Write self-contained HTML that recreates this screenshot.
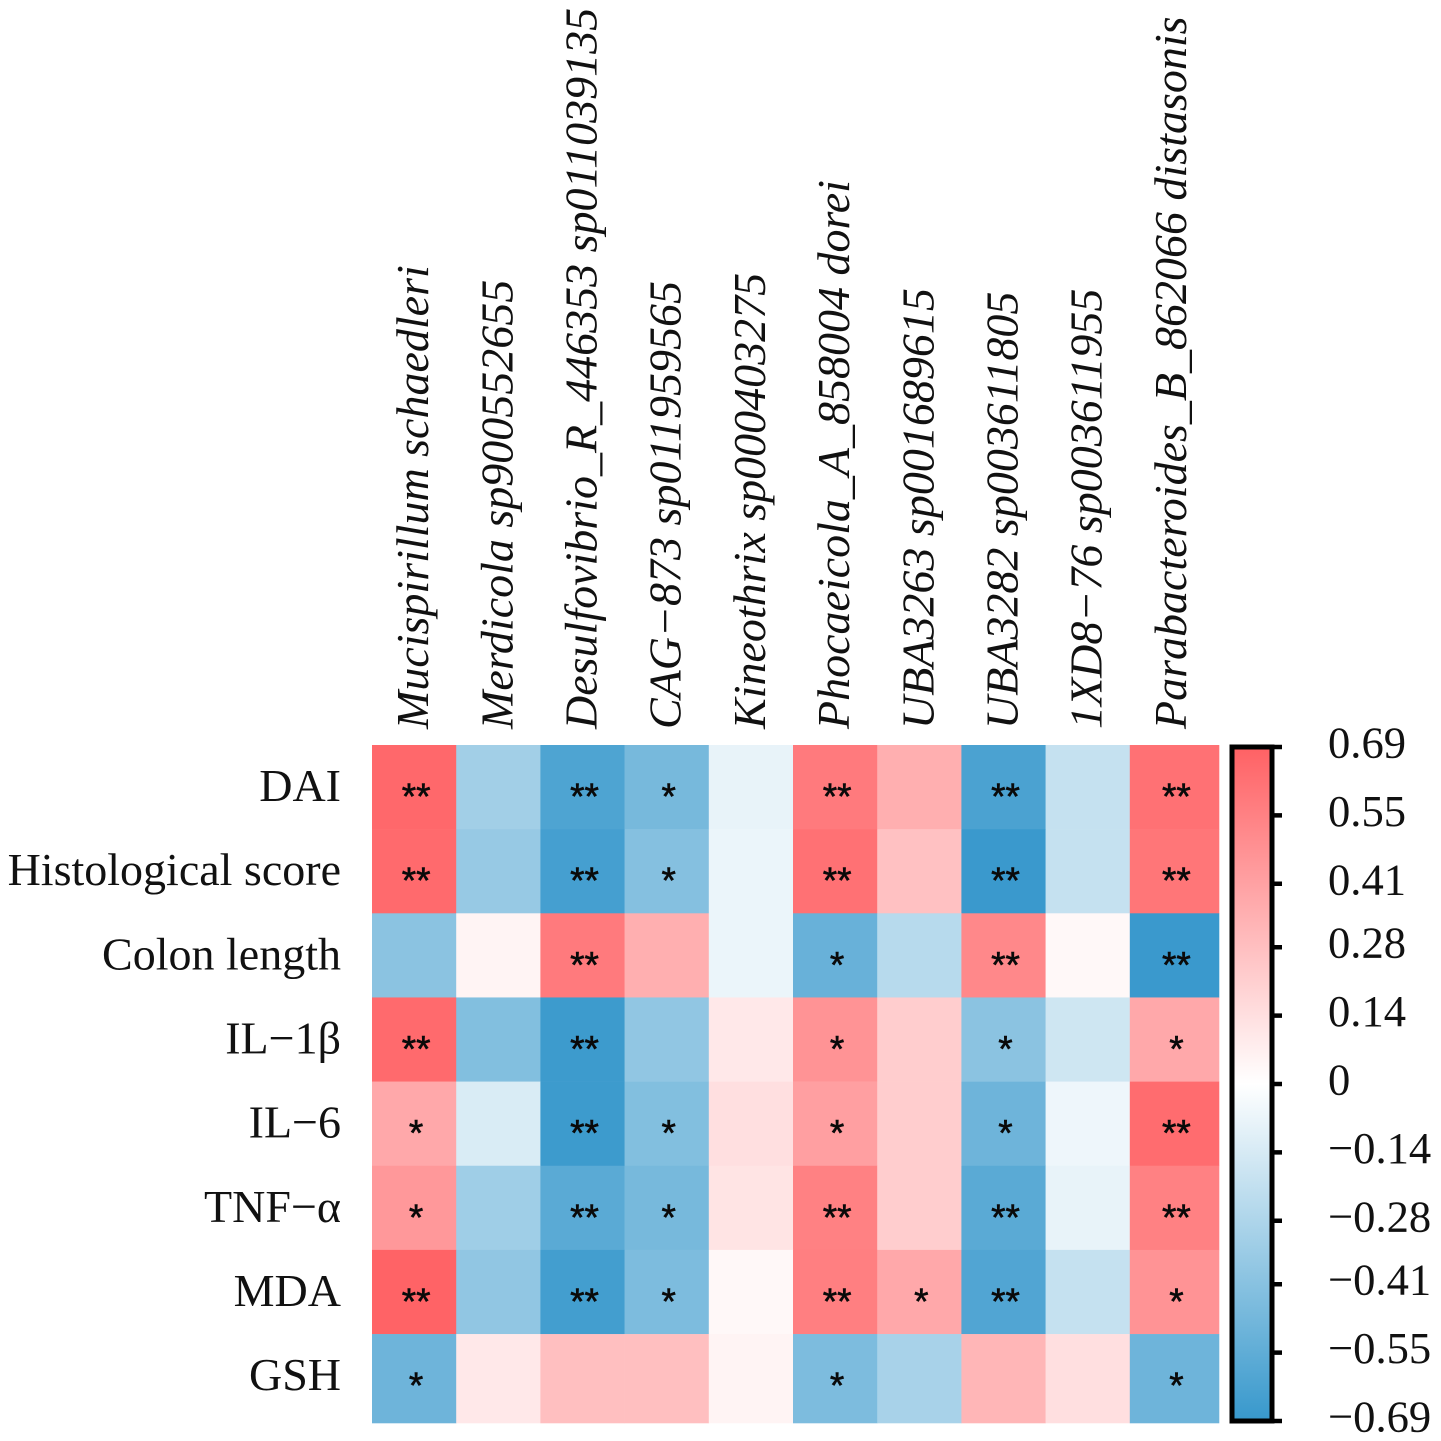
<!DOCTYPE html>
<html>
<head>
<meta charset="utf-8">
<title>Correlation heatmap</title>
<style>
html,body{margin:0;padding:0;background:#fff;width:1441px;height:1441px;overflow:hidden}
svg{display:block}
text{font-family:"Liberation Serif","Noto Serif CJK SC",serif;fill:#111}
</style>
</head>
<body>
<svg id="chart" xmlns="http://www.w3.org/2000/svg" width="1441" height="1441" viewBox="0 0 1441 1441">
<defs>
<linearGradient id="cbar-gradient" x1="0" y1="0" x2="0" y2="1">
<stop offset="0" stop-color="#ff6164"/>
<stop offset="0.5" stop-color="#ffffff"/>
<stop offset="1" stop-color="#3798cc"/>
</linearGradient>
</defs>
</svg>
<script>
const species = ["Mucispirillum schaedleri","Merdicola sp900552655","Desulfovibrio_R_446353 sp011039135","CAG\u2212873 sp011959565","Kineothrix sp000403275","Phocaeicola_A_858004 dorei","UBA3263 sp001689615","UBA3282 sp003611805","1XD8\u221276 sp003611955","Parabacteroides_B_862066 distasonis"];
const indicators = ["DAI","Histological score","Colon length","IL\u22121\u03b2","IL\u22126","TNF\u2212\u03b1","MDA","GSH"];
const correlations = [
[0.66,-0.32,-0.61,-0.47,-0.08,0.58,0.35,-0.62,-0.20,0.62],
[0.65,-0.36,-0.64,-0.42,-0.07,0.62,0.27,-0.68,-0.20,0.60],
[-0.40,0.05,0.58,0.35,-0.07,-0.52,-0.25,0.52,0.03,-0.68],
[0.65,-0.43,-0.67,-0.38,0.10,0.47,0.22,-0.40,-0.17,0.38],
[0.38,-0.13,-0.67,-0.43,0.14,0.42,0.22,-0.50,-0.06,0.64],
[0.45,-0.33,-0.57,-0.47,0.12,0.55,0.22,-0.57,-0.08,0.55],
[0.68,-0.38,-0.65,-0.45,0.03,0.56,0.38,-0.60,-0.20,0.47],
[-0.50,0.10,0.28,0.28,0.05,-0.45,-0.30,0.32,0.14,-0.50]
];
const significance = [
["**","","**","*","","**","","**","","**"],
["**","","**","*","","**","","**","","**"],
["","","**","","","*","","**","","**"],
["**","","**","","","*","","*","","*"],
["*","","**","*","","*","","*","","**"],
["*","","**","*","","**","","**","","**"],
["**","","**","*","","**","*","**","","*"],
["*","","","","","*","","","","*"]
];
const colorbarTicks = [0.69,0.55,0.41,0.28,0.14,0,-0.14,-0.28,-0.41,-0.55,-0.69];
const colorbarLabels = ["0.69","0.55","0.41","0.28","0.14","0","\u22120.14","\u22120.28","\u22120.41","\u22120.55","\u22120.69"];
const domainMax = 0.69;

const NS = "http://www.w3.org/2000/svg";
const svg = document.getElementById("chart");
const plot = {left:372, right:1219, top:745, bottom:1423};
const cbar = {left:1232, right:1272, top:747, bottom:1421};
const colW = 84.2;
const rowH = 84.15;
const xAt = i => plot.left + i*colW;
const yAt = i => plot.top + i*rowH;
const cellW = i => i === species.length-1 ? plot.right - xAt(i) : colW;
const cellH = i => i === indicators.length-1 ? plot.bottom - yAt(i) : rowH;
const cbarY = v => cbar.top + (domainMax - v)/(2*domainMax)*(cbar.bottom-cbar.top);
function mix(a,b,t){return a.map((c,i)=>Math.round(c+(b[i]-c)*t));}
function colorOf(v){
  const t = Math.min(1,Math.abs(v)/domainMax);
  const c = mix([255,255,255], v>=0 ? [255,97,100] : [55,152,204], t);
  return "rgb("+c.join(",")+")";
}
function make(tag,attrs,parent){
  const el = document.createElementNS(NS,tag);
  for(const k in attrs) el.setAttribute(k,attrs[k]);
  (parent||svg).appendChild(el);
  return el;
}

correlations.forEach((row,r)=>{
  row.forEach((v,c)=>{
    const cell = make("rect",{x:xAt(c),y:yAt(r),width:cellW(c)+0.3,height:cellH(r)+0.3,fill:colorOf(v)});
    
    
  });
});
correlations.forEach((row,r)=>{
  row.forEach((v,c)=>{
    const s = significance[r][c];
    if(s){
      const t = make("text",{x:xAt(c)+cellW(c)/2+2,y:yAt(r)+rowH/2+22,"text-anchor":"middle","font-size":37,stroke:"#0a0a0a","stroke-width":0.6});
      t.style.fontFamily = '"Liberation Sans",sans-serif';
      t.style.fill = "#0a0a0a";
      t.textContent = s;
      
      
    }
  });
});

species.forEach((name,i)=>{
  const bx = xAt(i)+colW/2+14;
  const t = make("text",{x:0,y:0,transform:"translate("+bx+",729) rotate(-90)","font-size":46,"font-style":"italic"});
  t.textContent = name;
  
  
});

indicators.forEach((name,i)=>{
  const t = make("text",{x:341,y:yAt(i)+rowH/2+14,"text-anchor":"end","font-size":46});
  t.textContent = name;
  
  
});

const barFill = make("rect",{x:cbar.left,y:cbar.top,width:cbar.right-cbar.left,height:cbar.bottom-cbar.top,fill:"url(#cbar-gradient)",stroke:"#000","stroke-width":5});



colorbarTicks.forEach((v,i)=>{
  const y = cbarY(v);
  const tick = make("line",{x1:cbar.right,x2:cbar.right+10,y1:y,y2:y,stroke:"#000","stroke-width":4.5});
  
  
  const label = make("text",{x:1328,y:y+10.5,"font-size":44.6});
  label.textContent = colorbarLabels[i];
  
  
});
</script>
</body>
</html>
